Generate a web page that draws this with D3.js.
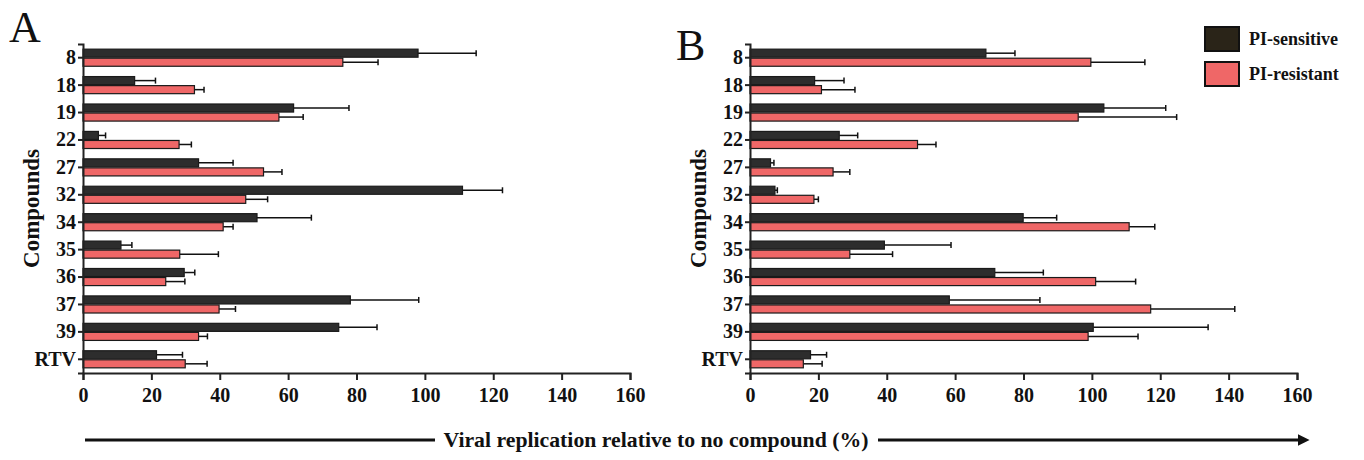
<!DOCTYPE html>
<html>
<head>
  <meta charset="utf-8">
  <style>
    body { margin: 0; background: #fff; }
    svg text { font-family: "Liberation Serif", "Times New Roman", "DejaVu Serif", serif !important; font-weight: bold; fill: #111; }
    svg .axis path, svg .axis line { stroke: #222; stroke-width: 2px; }
    svg .axis text { font-size: 20px; }
    svg .bar { stroke: #1a1a1a; stroke-width: 1.2px; }
    svg .err { stroke: #111; stroke-width: 1.5px; }
  </style>
</head>
<body>
<script src="https://cdn.jsdelivr.net/npm/d3@7"></script>
<script>
  // compounds on the y axis (top to bottom)
  var compounds = ["8", "18", "19", "22", "27", "32", "34", "35", "36", "37", "39", "RTV"];
  var xTicks = [0, 20, 40, 60, 80, 100, 120, 140, 160];
  var seriesNames = ["PI-sensitive", "PI-resistant"];

  // panel A: means and error (SD)
  var sensA    = [98, 15.1, 61.6, 4.5, 33.8, 111, 50.9, 11.1, 29.6, 78.2, 74.8, 21.5];
  var sensAErr = [17, 6.1, 16.2, 2.1, 10.1, 11.7, 15.9, 3.2, 3.1, 20, 11.2, 7.6];
  var resA     = [76, 32.6, 57.3, 28.1, 52.8, 47.6, 41, 28.3, 24.2, 39.8, 33.8, 29.9];
  var resAErr  = [10.3, 2.8, 7.1, 3.6, 5.4, 6.4, 2.9, 11.3, 5.6, 4.8, 2.6, 6.4];

  // panel B
  var sensB    = [69, 18.9, 103.5, 26.1, 6, 7.3, 79.9, 39.3, 71.6, 58.3, 100.4, 17.7];
  var sensBErr = [8.5, 8.6, 18.1, 5.4, 1, 0.7, 9.8, 19.5, 14.2, 26.5, 33.6, 4.7];
  var resB     = [99.7, 20.9, 96, 49, 24.3, 18.7, 110.9, 29.2, 101.1, 117.2, 98.9, 15.6];
  var resBErr  = [15.8, 9.8, 28.8, 5.4, 4.9, 1.3, 7.5, 12.5, 11.7, 24.6, 14.6, 5.5];

  var colors = ["#2d2d2d", "#ef6767"];
  var legendColors = ["#2a2418", "#ef6767"];

  var width = 1364, height = 460;
  var plotW = 547;          // pixels for 0..160
  var yTop = 44, yBottom = 373;

  var svg = d3.select("body")
    .append("svg")
      .attr("width", width)
      .attr("height", height);

  var xScale = d3.scaleLinear().domain([0, 160]).range([0, plotW]);
  var yScale = d3.scaleBand().domain(compounds).range([yTop, yBottom]).paddingInner(0.34).paddingOuter(0.17);
  var sub = d3.scaleBand().domain([0, 1]).range([0, yScale.bandwidth()]);

  function drawPanel(x0, letter, letterY, sens, sensErr, res, resErr) {
    var g = svg.append("g").attr("transform", "translate(" + x0 + ",0)");

    var rows = compounds.map(function (c, i) {
      return { c: c, vals: [
        { s: 0, v: sens[i], e: sensErr[i] },
        { s: 1, v: res[i], e: resErr[i] }
      ] };
    });

    var grp = g.selectAll("g.row")
      .data(rows)
      .enter().append("g")
        .attr("class", "row")
        .attr("transform", function (d) { return "translate(0," + yScale(d.c) + ")"; });

    var item = grp.selectAll("g.item")
      .data(function (d) { return d.vals; })
      .enter().append("g")
        .attr("class", "item");

    // error bars first so the bar sits on top of them
    item.append("line")
        .attr("class", "err")
        .attr("x1", function (d) { return xScale(d.v); })
        .attr("x2", function (d) { return xScale(d.v + d.e); })
        .attr("y1", function (d) { return sub(d.s) + sub.bandwidth() / 2; })
        .attr("y2", function (d) { return sub(d.s) + sub.bandwidth() / 2; });
    item.append("line")
        .attr("class", "err")
        .attr("x1", function (d) { return xScale(d.v + d.e); })
        .attr("x2", function (d) { return xScale(d.v + d.e); })
        .attr("y1", function (d) { return sub(d.s) + sub.bandwidth() / 2 - 3; })
        .attr("y2", function (d) { return sub(d.s) + sub.bandwidth() / 2 + 3; });

    item.append("rect")
        .attr("class", "bar")
        .attr("x", 0)
        .attr("y", function (d) { return sub(d.s) + 0.5; })
        .attr("width", function (d) { return xScale(d.v); })
        .attr("height", sub.bandwidth() - 1)
        .style("fill", function (d) { return colors[d.s]; });

    // x axis
    g.append("g")
        .attr("class", "axis")
        .attr("font-family", null)
        .attr("transform", "translate(0," + yBottom + ")")
        .call(d3.axisBottom(xScale).tickValues(xTicks).tickSizeOuter(0).tickSize(7).tickPadding(5))
      .selectAll("text")
        .attr("dy", "0.85em");

    // y axis
    g.append("g")
        .attr("class", "axis")
        .call(d3.axisLeft(yScale).tickSizeOuter(0).tickSize(5).tickPadding(2));

    g.selectAll(".axis").attr("font-family", null).attr("font-size", null);

    g.append("text")
        .attr("transform", "translate(-44," + ((yTop + yBottom) / 2) + ") rotate(-90)")
        .attr("text-anchor", "middle")
        .style("font-size", "23px")
        .text("Compounds");

    g.append("text")
        .attr("x", -74)
        .attr("y", letterY)
        .style("font-size", "44px")
        .style("font-weight", "normal")
        .text(letter);
  }

  drawPanel(83, "A", 42, sensA, sensAErr, resA, resAErr);
  drawPanel(750, "B", 60, sensB, sensBErr, resB, resBErr);

  // legend
  var leg = svg.append("g").attr("transform", "translate(1205,27)");
  leg.selectAll("rect")
    .data(seriesNames)
    .enter().append("rect")
      .attr("x", 0)
      .attr("y", function (d, i) { return i * 35; })
      .attr("width", 34)
      .attr("height", 24)
      .style("fill", function (d, i) { return legendColors[i]; })
      .style("stroke", "#111")
      .style("stroke-width", 2);
  leg.selectAll("text")
    .data(seriesNames)
    .enter().append("text")
      .attr("x", 44)
      .attr("y", function (d, i) { return i * 35 + 18; })
      .style("font-size", "18px")
      .text(function (d) { return d; });

  // bottom arrow with title
  svg.append("defs").append("marker")
      .attr("id", "arrow")
      .attr("viewBox", "0 0 10 10")
      .attr("refX", 2).attr("refY", 5)
      .attr("markerWidth", 4).attr("markerHeight", 4)
      .attr("orient", "auto")
    .append("path")
      .attr("d", "M0,0 L10,5 L0,10 z")
      .style("fill", "#111");
  svg.append("line")
      .attr("x1", 85).attr("x2", 435).attr("y1", 440).attr("y2", 440)
      .style("stroke", "#111").style("stroke-width", 3);
  svg.append("line")
      .attr("x1", 878).attr("x2", 1300).attr("y1", 440).attr("y2", 440)
      .style("stroke", "#111").style("stroke-width", 3)
      .attr("marker-end", "url(#arrow)");
  svg.append("text")
      .attr("x", 656)
      .attr("y", 447)
      .attr("text-anchor", "middle")
      .attr("textLength", 425)
      .attr("lengthAdjust", "spacingAndGlyphs")
      .style("font-size", "21px")
      .text("Viral replication relative to no compound (%)");
</script>
</body>
</html>
